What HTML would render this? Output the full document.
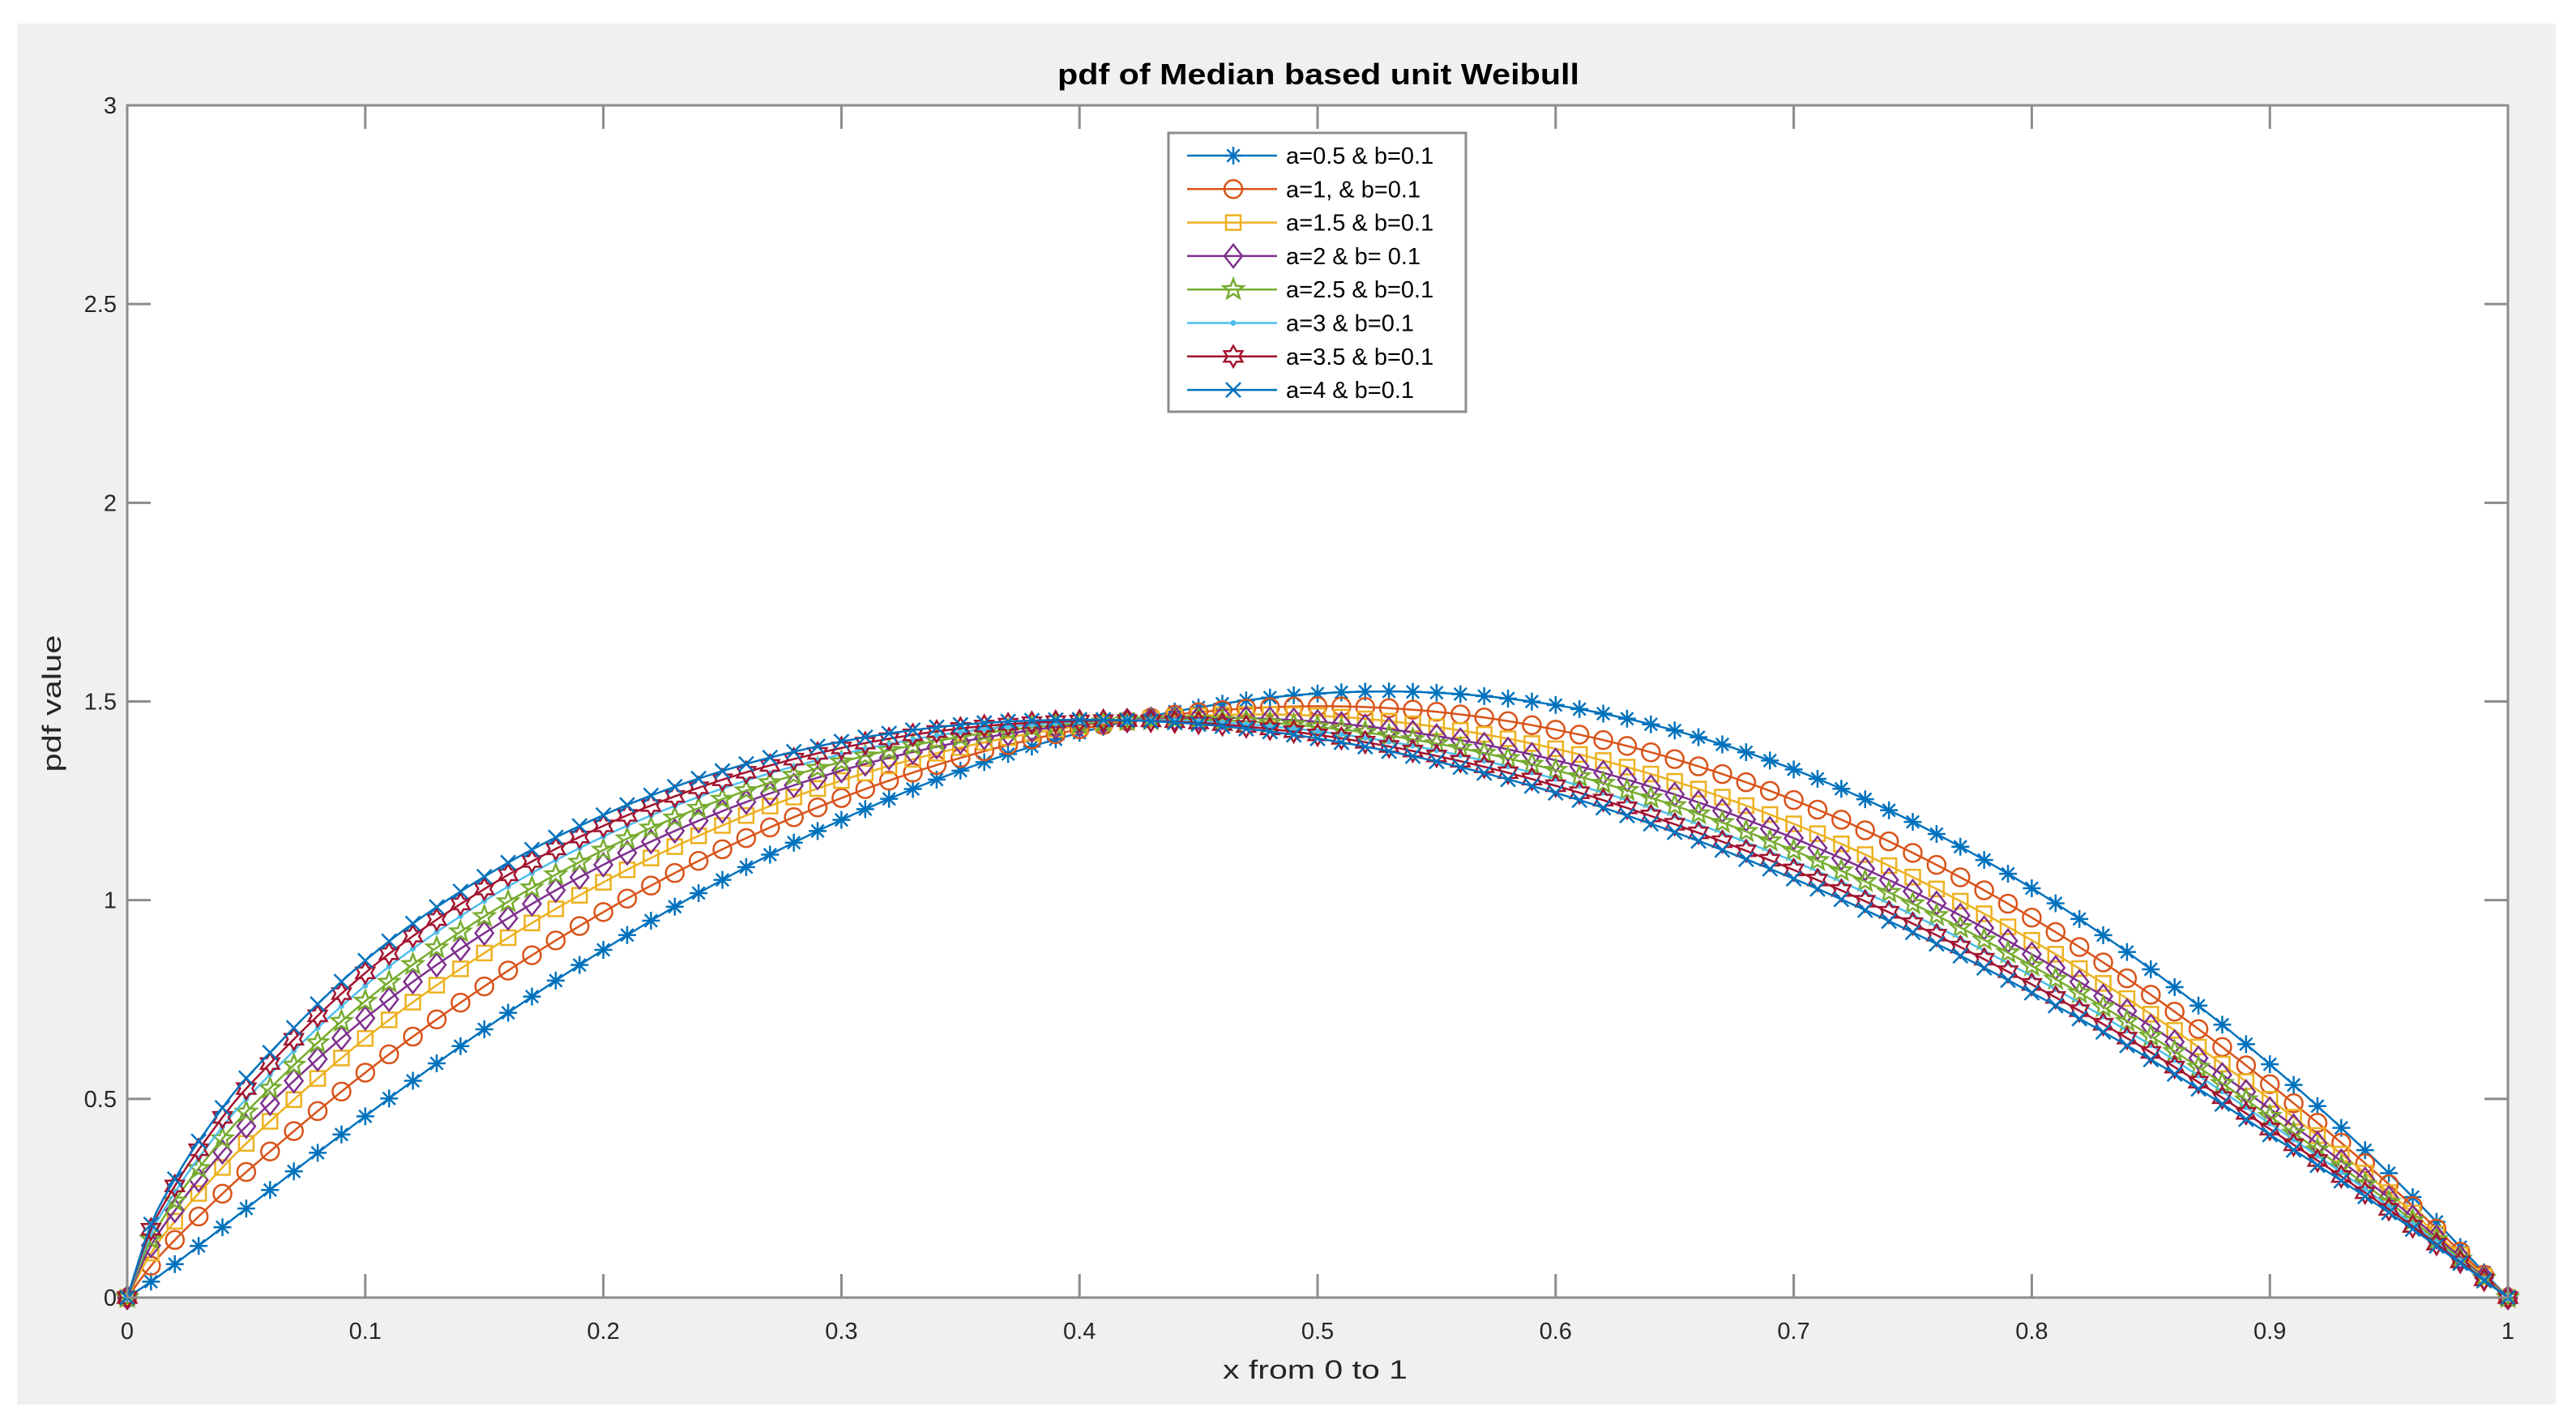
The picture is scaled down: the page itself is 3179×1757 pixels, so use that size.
<!DOCTYPE html>
<html><head><meta charset="utf-8"><style>
html,body{margin:0;padding:0;background:#fff;}
svg{display:block;font-family:"Liberation Sans",Arial,sans-serif;}
</style></head><body>
<svg id="chart" width="3179" height="1757" viewBox="0 0 3179 1757" xmlns="http://www.w3.org/2000/svg">
<rect x="21" y="29" width="3133" height="1704" fill="#f0f0f0"/>
<rect x="157" y="130" width="2938" height="1471" fill="#fff"/>
<g id="series"></g>
<g id="axes"></g>
<text x="1627" y="104" text-anchor="middle" font-size="36" font-weight="bold" fill="#000" textLength="644" lengthAdjust="spacingAndGlyphs">pdf of Median based unit Weibull</text>
<text x="1623" y="1701" text-anchor="middle" font-size="32" fill="#262626" textLength="228" lengthAdjust="spacingAndGlyphs">x from 0 to 1</text>
<text transform="translate(75,868) rotate(-90)" text-anchor="middle" font-size="32" fill="#262626" textLength="169" lengthAdjust="spacingAndGlyphs">pdf value</text>
<g id="legend"></g>
</svg>
<script>
const xValues = [0,0.01,0.02,0.03,0.05,0.1,0.15,0.2,0.25,0.3,0.35,0.4,0.45,0.5,0.55,0.6,0.65,0.7,0.75,0.8,0.85,0.9,0.95,1];
const seriesA05 = [0,0.040,0.084,0.130,0.224,0.456,0.675,0.875,1.051,1.202,1.326,1.421,1.485,1.520,1.522,1.491,1.427,1.329,1.197,1.030,0.826,0.587,0.313,0];
const seriesA1  = [0,0.080,0.145,0.204,0.316,0.566,0.783,0.970,1.128,1.257,1.358,1.430,1.473,1.488,1.474,1.429,1.355,1.252,1.119,0.956,0.762,0.537,0.285,0];
const seriesA15 = [0,0.112,0.192,0.262,0.388,0.652,0.867,1.045,1.188,1.301,1.384,1.438,1.464,1.464,1.436,1.381,1.299,1.192,1.058,0.899,0.713,0.499,0.264,0];
const seriesA2  = [0,0.131,0.219,0.296,0.431,0.703,0.917,1.089,1.224,1.326,1.398,1.442,1.459,1.449,1.413,1.352,1.266,1.156,1.022,0.864,0.683,0.475,0.251,0];
const seriesA25 = [0,0.147,0.243,0.325,0.467,0.746,0.959,1.126,1.254,1.348,1.411,1.445,1.454,1.436,1.394,1.327,1.238,1.125,0.991,0.835,0.658,0.456,0.240,0];
const seriesA3  = [0,0.161,0.264,0.351,0.500,0.785,0.998,1.160,1.281,1.367,1.423,1.449,1.450,1.425,1.377,1.305,1.212,1.098,0.963,0.809,0.635,0.438,0.230,0];
const seriesA35 = [0,0.172,0.281,0.372,0.526,0.817,1.028,1.187,1.303,1.383,1.432,1.451,1.446,1.416,1.363,1.288,1.191,1.076,0.941,0.788,0.617,0.424,0.222,0];
const seriesA4  = [0,0.184,0.298,0.393,0.552,0.848,1.059,1.214,1.325,1.399,1.441,1.454,1.443,1.407,1.349,1.270,1.171,1.054,0.919,0.767,0.599,0.410,0.214,0];
const seriesLabels = ["a=0.5 & b=0.1","a=1, & b=0.1","a=1.5 & b=0.1","a=2 & b= 0.1","a=2.5 & b=0.1","a=3 & b=0.1","a=3.5 & b=0.1","a=4 & b=0.1"];
const xTicks = [0,0.1,0.2,0.3,0.4,0.5,0.6,0.7,0.8,0.9,1];
const xTickLabels = ["0","0.1","0.2","0.3","0.4","0.5","0.6","0.7","0.8","0.9","1"];
const yTicks = [0,0.5,1,1.5,2,2.5,3];
const yTickLabels = ["0","0.5","1","1.5","2","2.5","3"];

const NS="http://www.w3.org/2000/svg";
const L=157,R=3095,T=130,B=1601;
function sx(v){return L+(R-L)*v;}
function sy(v){return B-(B-T)*v/3;}
const colors=["#0072BD","#D95319","#EDB120","#7E2F8E","#77AC30","#4DBEEE","#A2142F","#0072BD"];
const markers=["asterisk","circle","square","diamond","pentagram","point","hexagram","cross"];
const allSeries=[seriesA05,seriesA1,seriesA15,seriesA2,seriesA25,seriesA3,seriesA35,seriesA4];
function mk(tag,attrs){const e=document.createElementNS(NS,tag);for(const k in attrs)e.setAttribute(k,attrs[k]);return e;}
function starPts(cx,cy,n,ro,ri){let p=[];for(let i=0;i<2*n;i++){const r=i%2?ri:ro;const a=-Math.PI/2+i*Math.PI/n;p.push((cx+r*Math.cos(a)).toFixed(1)+","+(cy+r*Math.sin(a)).toFixed(1));}return p.join(" ");}
function drawMarker(g,type,cx,cy,c){
  const s=11;let e;
  if(type==="asterisk"){e=mk("path",{d:`M${cx-s},${cy}H${cx+s}M${cx},${cy-s}V${cy+s}M${cx-s*0.7},${cy-s*0.7}L${cx+s*0.7},${cy+s*0.7}M${cx-s*0.7},${cy+s*0.7}L${cx+s*0.7},${cy-s*0.7}`,stroke:c,"stroke-width":2.5,fill:"none"});}
  else if(type==="circle"){e=mk("circle",{cx:cx,cy:cy,r:s,stroke:c,"stroke-width":2.5,fill:"none"});}
  else if(type==="square"){e=mk("rect",{x:cx-9,y:cy-9,width:18,height:18,stroke:c,"stroke-width":2.5,fill:"none"});}
  else if(type==="diamond"){e=mk("polygon",{points:`${cx},${cy-14} ${cx+11},${cy} ${cx},${cy+14} ${cx-11},${cy}`,stroke:c,"stroke-width":2.5,fill:"none"});}
  else if(type==="pentagram"){e=mk("polygon",{points:starPts(cx,cy,5,13,5.5),stroke:c,"stroke-width":2.5,fill:"none"});}
  else if(type==="point"){e=mk("circle",{cx:cx,cy:cy,r:3.5,fill:c});}
  else if(type==="hexagram"){e=mk("polygon",{points:starPts(cx,cy,6,13,7.5),stroke:c,"stroke-width":2.5,fill:"none"});}
  else {e=mk("path",{d:`M${cx-9},${cy-9}L${cx+9},${cy+9}M${cx-9},${cy+9}L${cx+9},${cy-9}`,stroke:c,"stroke-width":2.5,fill:"none"});}
  g.appendChild(e);
}
// monotone-ish cubic (Catmull-Rom with non-uniform spacing) evaluated at x
function evalAt(vals,x){
  const n=xValues.length;
  let i=0;while(i<n-2&&x>xValues[i+1])i++;
  const x1=xValues[i],x2=xValues[i+1],h=x2-x1,t=(x-x1)/h;
  const y1=vals[i],y2=vals[i+1];
  const m1=i>0?(vals[i+1]-vals[i-1])/(xValues[i+1]-xValues[i-1]):(y2-y1)/h;
  const m2=i+2<n?(vals[i+2]-vals[i])/(xValues[i+2]-xValues[i]):(y2-y1)/h;
  const t2=t*t,t3=t2*t;
  return (2*t3-3*t2+1)*y1+(t3-2*t2+t)*h*m1+(-2*t3+3*t2)*y2+(t3-t2)*h*m2;
}
const sg=document.getElementById("series");
allSeries.forEach((vals,si)=>{
  const g=mk("g",{});
  
  
  let lp=[];
  for(let k=0;k<=400;k++){const x=k/400;lp.push(sx(x).toFixed(1)+","+sy(evalAt(vals,x)).toFixed(1));}
  const line=mk("polyline",{points:lp.join(" "),fill:"none",stroke:colors[si],"stroke-width":2.5});
  
  
  g.appendChild(line);
  for(let k=0;k<=100;k++){const x=k/100;drawMarker(g,markers[si],sx(x),sy(evalAt(vals,x)),colors[si]);}
  sg.appendChild(g);
});
const ag=document.getElementById("axes");
ag.appendChild(mk("rect",{x:L,y:T,width:R-L,height:B-T,fill:"none",stroke:"#8c8c8c","stroke-width":3}));
xTicks.forEach((v,i)=>{
  const x=sx(v);
  ag.appendChild(mk("path",{d:`M${x},${B}V${B-29}M${x},${T}V${T+29}`,stroke:"#8c8c8c","stroke-width":3}));
  const t=mk("text",{x:x,y:1652,"text-anchor":"middle","font-size":29,fill:"#262626"});
  
  
  t.textContent=xTickLabels[i];ag.appendChild(t);
});
yTicks.forEach((v,i)=>{
  const y=sy(v);
  ag.appendChild(mk("path",{d:`M${L},${y}H${L+29}M${R},${y}H${R-29}`,stroke:"#8c8c8c","stroke-width":3}));
  const t=mk("text",{x:144,y:y+10,"text-anchor":"end","font-size":29,fill:"#262626"});
  
  
  t.textContent=yTickLabels[i];ag.appendChild(t);
});
const lg=document.getElementById("legend");
lg.appendChild(mk("rect",{x:1442,y:164,width:367,height:344,fill:"#fff",stroke:"#8c8c8c","stroke-width":3}));
seriesLabels.forEach((lab,i)=>{
  const y=192+i*41.3;
  const e=mk("g",{});
  
  
  e.appendChild(mk("line",{x1:1465,x2:1576,y1:y,y2:y,stroke:colors[i],"stroke-width":2.5}));
  drawMarker(e,markers[i],1522,y,colors[i]);
  const t=mk("text",{x:1587,y:y+10,"font-size":29,fill:"#000"});
  t.textContent=lab;e.appendChild(t);
  lg.appendChild(e);
});
</script>
</body></html>
